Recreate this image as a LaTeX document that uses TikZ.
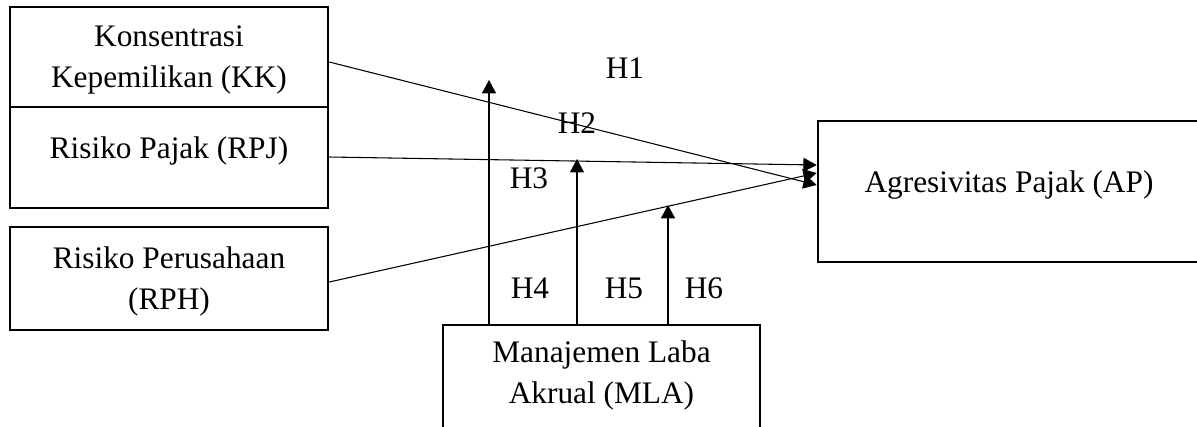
\documentclass[tikz,border=0pt]{standalone}
\usepackage{fontspec}
\setmainfont{Liberation Serif}
\usetikzlibrary{arrows.meta,calc}
\begin{document}
\begin{tikzpicture}[x=0.75pt,y=-0.75pt,
  box/.style={draw=black,line width=1.9pt,rectangle,inner sep=0pt},
  lbl/.style={inner sep=0pt,font=\fontsize{23.5pt}{30.75pt}\selectfont,align=center,text=black},
  arr/.style={draw=black,line width=0.8pt,-{Triangle[length=10pt,width=10.5pt]}}]
\useasboundingbox (0,0) rectangle (1197,426);
\clip (0,0) rectangle (1197,426);
% boxes
\node[box,minimum width=238.5pt,minimum height=75pt] (kk) at (169,57) {};
\node[box,minimum width=238.5pt,minimum height=75.75pt] (rpj) at (169,157.5) {};
\node[box,minimum width=238.5pt,minimum height=77.25pt] (rph) at (169,278.5) {};
\node[box,minimum width=287.25pt,minimum height=105.75pt] (ap) at (1009.5,191.5) {};
\node[box,minimum width=237.75pt,minimum height=77.25pt] (mla) at (601.5,376.5) {};
% texts
\node[lbl] (kkt) at (169,60) {Konsentrasi\\Kepemilikan (KK)};
\node[lbl,anchor=base] (rpjt) at (169,158) {Risiko Pajak (RPJ)};
\node[lbl] (rpht) at (169,281.5) {Risiko Perusahaan\\(RPH)};
\node[lbl,anchor=base] (apt) at (1009,192) {Agresivitas Pajak (AP)};
\node[lbl] (mlat) at (601.5,375.5) {Manajemen Laba\\Akrual (MLA)};
% hypothesis labels
\node[lbl,anchor=base] (h1) at (625,78) {H1};
\node[lbl,anchor=base] (h2) at (577,133) {H2};
\node[lbl,anchor=base] (h3) at (529,188) {H3};
\node[lbl,anchor=base] (h4) at (530,298) {H4};
\node[lbl,anchor=base] (h5) at (624,298) {H5};
\node[lbl,anchor=base] (h6) at (704,298) {H6};
% direct paths
\draw[arr] ($(kk.east)+(0,5)$) -- ($(ap.west)+(0,-6.5)$);
\draw[arr] ($(rpj.east)+(0,-0.5)$) -- ($(ap.west)+(0,-26.5)$);
\draw[arr] ($(rph.east)+(0,3.5)$) -- ($(ap.west)+(0,-18.5)$);
% moderation arrows
\coordinate (t4) at (489,80);
\coordinate (t5) at (577,159);
\coordinate (t6) at (668,205);
\draw[arr] (mla.north -| t4) -- (t4);
\draw[arr] (mla.north -| t5) -- (t5);
\draw[arr] (mla.north -| t6) -- (t6);
\end{tikzpicture}
\end{document}
